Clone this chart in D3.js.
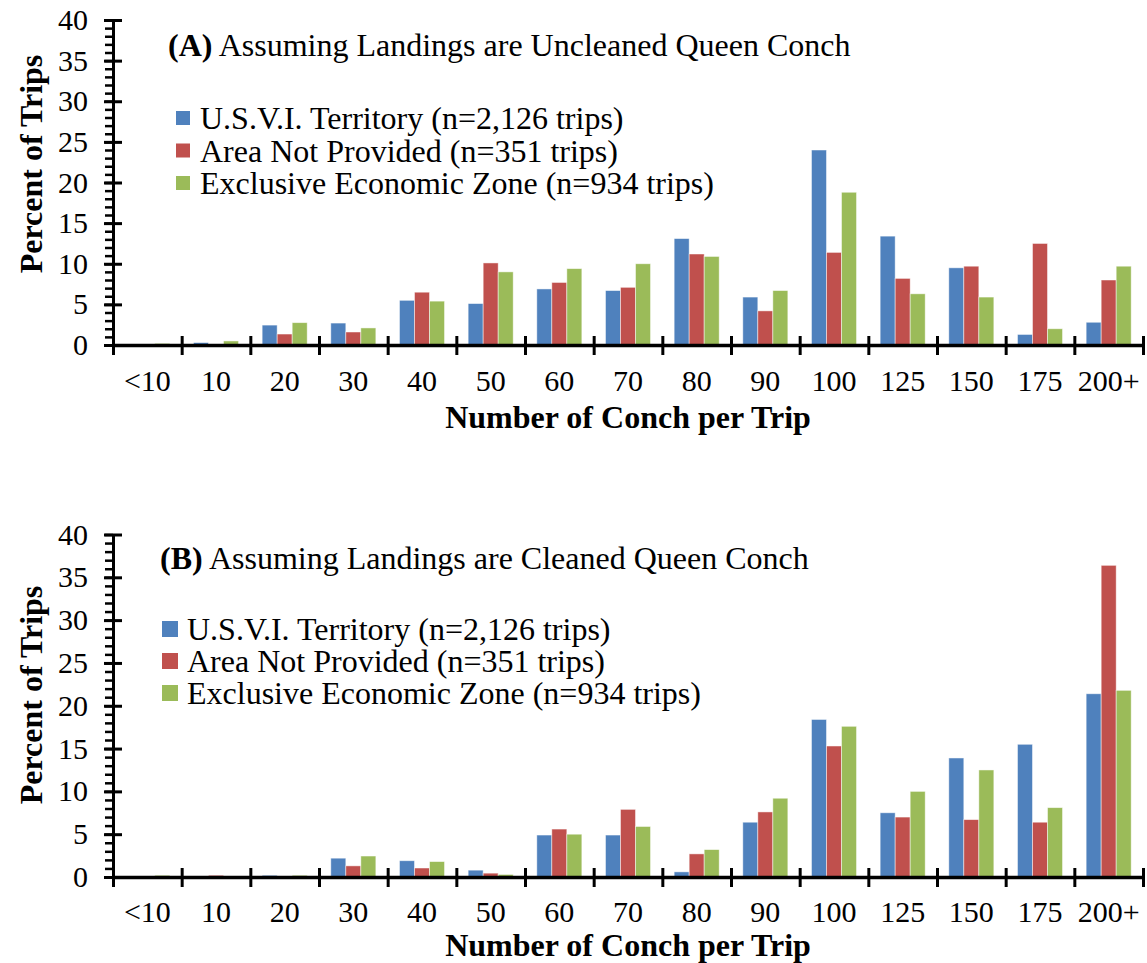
<!DOCTYPE html>
<html>
<head>
<meta charset="utf-8">
<script src="https://cdn.jsdelivr.net/npm/d3@7"></script>
<style>
  body { margin: 0; background: #fff; }
  svg { display: block; font-family: "Liberation Serif", "Times New Roman", serif; }
</style>
</head>
<body>
<svg id="chart" width="1147" height="963"></svg>
<script>
// categories (number of conch per trip)
const categories = ["<10", "10", "20", "30", "40", "50", "60", "70", "80", "90", "100", "125", "150", "175", "200+"];
const seriesNames = ["U.S.V.I. Territory (n=2,126 trips)", "Area Not Provided (n=351 trips)", "Exclusive Economic Zone (n=934 trips)"];
const seriesColors = ["#4F81BD", "#C0504D", "#9BBB59"];
const yTicks = [0, 5, 10, 15, 20, 25, 30, 35, 40];

// (A) uncleaned
const uncleanedUSVI = [0.1, 0.3, 2.45, 2.7, 5.5, 5.1, 6.9, 6.7, 13.1, 5.9, 24.0, 13.4, 9.5, 1.3, 2.8];
const uncleanedNA   = [0.0, 0.1, 1.35, 1.6, 6.5, 10.1, 7.7, 7.1, 11.2, 4.2, 11.4, 8.2, 9.7, 12.5, 8.0];
const uncleanedEEZ  = [0.2, 0.5, 2.75, 2.1, 5.4, 9.0, 9.4, 10.0, 10.9, 6.7, 18.8, 6.3, 5.9, 2.0, 9.7];

// (B) cleaned
const cleanedUSVI = [0.0, 0.05, 0.2, 2.2, 1.9, 0.8, 4.9, 4.9, 0.6, 6.4, 18.4, 7.5, 13.9, 15.5, 21.4];
const cleanedNA   = [0.0, 0.2, 0.0, 1.3, 1.05, 0.45, 5.6, 7.9, 2.7, 7.6, 15.3, 7.0, 6.7, 6.4, 36.4];
const cleanedEEZ  = [0.2, 0.05, 0.2, 2.45, 1.8, 0.3, 5.0, 5.9, 3.2, 9.2, 17.6, 10.0, 12.5, 8.1, 21.8];

const svg = d3.select("#chart");

function drawPanel(opts) {
  const { letter, title, values, top, bottom, titleX, titleY, legX, legY, legStep, legSize, legTextX, xLabelPad, xTitleY, yTitleCY } = opts;
  const left = 113, right = 1143;
  const g = svg.append("g");

  const y = d3.scaleLinear().domain([0, 40]).range([bottom, top]);
  const x = d3.scaleBand().domain(categories).range([left, right]);
  const bw = x.bandwidth();
  const x1 = d3.scaleBand().domain(d3.range(3)).range([bw * 0.172, bw * 0.828]);

  // bars
  const rows = [];
  categories.forEach((c, i) => {
    values.forEach((arr, s) => rows.push({ cat: c, s: s, v: arr[i] }));
  });
  g.append("g").selectAll("rect")
    .data(rows)
    .enter()
    .append("rect")
    .attr("x", d => x(d.cat) + x1(d.s))
    .attr("y", d => y(d.v))
    .attr("width", x1.bandwidth())
    .attr("height", d => y(0) - y(d.v))
    .attr("fill", d => seriesColors[d.s])
    .attr("stroke", "#fff")
    .attr("stroke-opacity", 0.6)
    .attr("stroke-width", 0.8);

  // y axis minor ticks
  const minor = g.append("g")
    .attr("transform", `translate(${left},0)`)
    .call(d3.axisLeft(y).tickValues(d3.range(0, 41, 1)).tickSize(8).tickFormat(""));
  minor.select(".domain").remove();
  minor.selectAll("line").attr("stroke-width", 2.5);

  // y axis major ticks
  const major = g.append("g")
    .attr("transform", `translate(${left},0)`)
    .call(d3.axisLeft(y).tickValues(yTicks).tickSize(9).tickPadding(16).tickSizeOuter(0));
  major.selectAll(".tick line").attr("x1", 9).attr("stroke-width", 3);
  major.select(".domain").attr("stroke-width", 3);
  major.selectAll("text").attr("font-size", 30).attr("font-family", "Liberation Serif").attr("fill", "#000");

  // x axis boundary ticks
  const xb = d3.scaleLinear().domain([0, categories.length]).range([left, right]);
  const xt = g.append("g")
    .attr("transform", `translate(0,${bottom})`)
    .call(d3.axisBottom(xb).tickValues(d3.range(0, categories.length + 1)).tickSize(10).tickFormat("").tickSizeOuter(0));
  xt.selectAll(".tick line").attr("y1", -9).attr("stroke-width", 3);
  xt.select(".domain").attr("stroke-width", 3.5);

  // x labels
  const xl = g.append("g")
    .attr("transform", `translate(0,${bottom})`)
    .call(d3.axisBottom(x).tickSize(0).tickPadding(xLabelPad));
  xl.select(".domain").remove();
  xl.selectAll("text").attr("font-size", 30).attr("font-family", "Liberation Serif").attr("fill", "#000");

  // axis titles
  g.append("text")
    .attr("x", 628)
    .attr("y", bottom + xTitleY)
    .attr("text-anchor", "middle")
    .attr("font-size", 32)
    .attr("font-weight", "bold")
    .text("Number of Conch per Trip");

  g.append("text")
    .attr("transform", `translate(42,${yTitleCY}) rotate(-90)`)
    .attr("text-anchor", "middle")
    .attr("font-size", 32)
    .attr("font-weight", "bold")
    .text("Percent of Trips");

  // panel title
  const t = g.append("text").attr("x", titleX).attr("y", titleY).attr("font-size", 32);
  t.append("tspan").attr("font-weight", "bold").text(`(${letter})`);
  t.append("tspan").text(" " + title);

  // legend
  const leg = g.append("g");
  seriesNames.forEach((name, i) => {
    const cy = legY + i * legStep;
    leg.append("rect")
      .attr("x", legX).attr("y", cy - legSize / 2)
      .attr("width", legSize).attr("height", legSize)
      .attr("fill", seriesColors[i]);
    leg.append("text")
      .attr("x", legTextX).attr("y", cy)
      .attr("dy", "0.35em")
      .attr("font-size", 32)
      .text(name);
  });
}

drawPanel({
  letter: "A", title: "Assuming Landings are Uncleaned Queen Conch",
  values: [uncleanedUSVI, uncleanedNA, uncleanedEEZ],
  top: 20, bottom: 345,
  titleX: 168, titleY: 56,
  legX: 176, legY: 118, legStep: 32.5, legSize: 14, legTextX: 200,
  xLabelPad: 25, xTitleY: 83, yTitleCY: 164
});

drawPanel({
  letter: "B", title: "Assuming Landings are Cleaned Queen Conch",
  values: [cleanedUSVI, cleanedNA, cleanedEEZ],
  top: 534.5, bottom: 877,
  titleX: 160, titleY: 569,
  legX: 162, legY: 629, legStep: 32, legSize: 16, legTextX: 187,
  xLabelPad: 24, xTitleY: 79, yTitleCY: 695
});
</script>
</body>
</html>
